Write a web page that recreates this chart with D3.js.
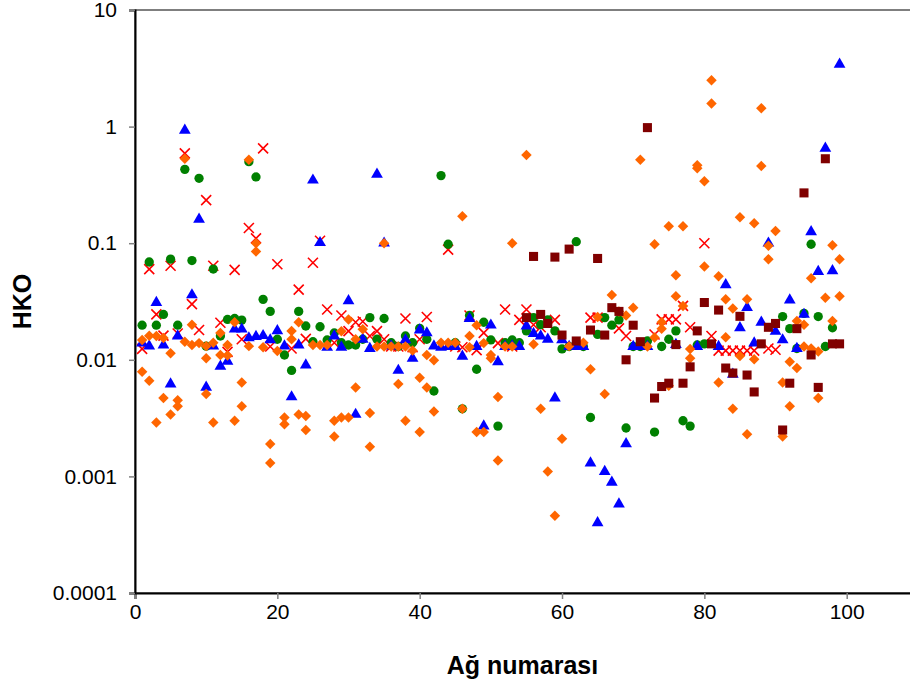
<!DOCTYPE html>
<html>
<head>
<meta charset="utf-8">
<script src="https://cdn.jsdelivr.net/npm/d3@7"></script>
<style>
  body { margin: 0; background: #fff; }
  text { font-family: Arial, "Liberation Sans", sans-serif; }
</style>
</head>
<body>
<div class="chart"></div>
<script>
// Data: [network number, HKO value]
const redCross = [
  [1,0.0124],[2,0.06],[3,0.0245],[4,0.0161],[5,0.064],[6,0.0168],[7,0.59],[8,0.030],[9,0.018],[10,0.234],
  [11,0.064],[12,0.0208],[13,0.0117],[14,0.059],[15,0.015],[16,0.135],[17,0.11],[18,0.65],[19,0.013],[20,0.066],
  [22,0.0125],[23,0.04],[24,0.0151],[25,0.068],[26,0.105],[27,0.027],[28,0.014],[29,0.024],[30,0.0176],
  [31,0.021],[32,0.0213],[33,0.016],[34,0.0176],[35,0.015],[36,0.013],[37,0.013],[38,0.0226],[39,0.0128],[40,0.015],
  [41,0.0233],[44,0.088],[45,0.013],[46,0.0128],[47,0.024],[48,0.0121],[49,0.017],[51,0.0139],[52,0.027],[53,0.013],
  [54,0.022],[55,0.027],[56,0.02],[57,0.019],[59,0.022],[64,0.023],[65,0.023],[68,0.0186],[69,0.016],
  [73,0.0165],[74,0.0222],[75,0.0222],[76,0.0222],[77,0.029],[78,0.019],[80,0.10],[81,0.016],
  [82,0.012],[83,0.012],[84,0.012],[85,0.012],[86,0.012],[87,0.012],[89,0.0125],[90,0.0122]
];

const greenCircle = [
  [1,0.0198],[2,0.069],[3,0.0198],[4,0.0245],[5,0.073],[6,0.0198],[7,0.43],[8,0.071],[9,0.36],[10,0.0131],
  [11,0.06],[12,0.016],[13,0.0222],[14,0.0226],[15,0.0219],[16,0.5],[17,0.37],[18,0.033],[19,0.026],[20,0.015],
  [21,0.011],[22,0.0081],[23,0.026],[24,0.0195],[25,0.0143],[26,0.0192],[27,0.0148],[28,0.017],[29,0.014],[30,0.0134],
  [31,0.0134],[32,0.015],[33,0.023],[34,0.015],[35,0.0226],[36,0.014],[37,0.013],[38,0.016],[39,0.014],[40,0.0186],
  [41,0.015],[42,0.0054],[43,0.38],[44,0.098],[45,0.014],[46,0.0038],[47,0.024],[48,0.0083],[49,0.021],[50,0.0148],
  [51,0.0027],[52,0.014],[53,0.0148],[54,0.014],[55,0.0177],[56,0.023],[57,0.02],[58,0.022],[59,0.0177],[60,0.0124],
  [61,0.013],[62,0.103],[63,0.013],[64,0.0032],[65,0.0165],[66,0.023],[67,0.0198],[68,0.022],[69,0.0026],[70,0.013],
  [71,0.013],[72,0.0145],[73,0.0024],[74,0.013],[75,0.015],[76,0.0177],[77,0.003],[78,0.0027],[79,0.0134],[80,0.0137],
  [91,0.0235],[92,0.0185],[93,0.0125],[94,0.025],[95,0.098],[96,0.0235],[97,0.013],[98,0.0188]
];

const blueTriangle = [
  [1,0.0139],[2,0.0131],[3,0.031],[4,0.0134],[5,0.0062],[6,0.016],[7,0.93],[8,0.036],[9,0.16],[10,0.0058],
  [11,0.0131],[12,0.0088],[13,0.0097],[14,0.0183],[15,0.0183],[16,0.0154],[17,0.0158],[18,0.0161],[19,0.0148],[20,0.0177],
  [21,0.0131],[22,0.0048],[23,0.0134],[24,0.009],[25,0.347],[26,0.101],[27,0.0128],[28,0.016],[29,0.0128],[30,0.032],
  [31,0.0034],[32,0.015],[33,0.0125],[34,0.39],[35,0.1],[36,0.0131],[37,0.0081],[38,0.0148],[39,0.0103],[40,0.018],
  [41,0.017],[42,0.0131],[43,0.0128],[44,0.013],[45,0.013],[46,0.0107],[47,0.0226],[48,0.013],[49,0.0027],[50,0.0198],
  [51,0.0096],[52,0.013],[53,0.0131],[54,0.013],[55,0.0195],[56,0.0168],[57,0.016],[58,0.015],[59,0.0047],[60,0.0148],
  [61,0.013],[62,0.013],[63,0.013],[64,0.0013],[65,0.0004],[66,0.0011],[67,0.00089],[68,0.00058],[69,0.0019],[70,0.013],
  [71,0.013],[72,0.013],[76,0.0135],[79,0.013],[82,0.013],[83,0.044],[84,0.0075],[85,0.0188],[86,0.028],[87,0.0139],
  [88,0.021],[89,0.1],[90,0.0175],[91,0.0148],[92,0.0325],[93,0.0125],[94,0.0245],[95,0.125],[96,0.057],[97,0.65],
  [98,0.058],[99,3.42]
];

const orangeDiamondA = [
  [1,0.0148],[2,0.0161],[3,0.016],[4,0.0154],[5,0.0114],[6,0.0045],[7,0.0143],[8,0.0134],[9,0.0139],[10,0.0131],
  [11,0.014],[12,0.017],[13,0.0134],[14,0.021],[15,0.004],[16,0.0131],[17,0.1],[18,0.0128],[19,0.0019],[20,0.0119],
  [21,0.0032],[22,0.0177],[23,0.021],[24,0.0033],[25,0.0134],[26,0.0134],[27,0.0134],[28,0.003],[29,0.0176],[30,0.0222],
  [31,0.015],[32,0.0183],[33,0.0035],[34,0.013],[35,0.013],[36,0.013],[37,0.013],[38,0.013],[39,0.012],[40,0.007],
  [41,0.011],[42,0.0099],[43,0.014],[44,0.014],[45,0.014],[46,0.0038],[47,0.016],[48,0.0198],[49,0.0139],[50,0.011],
  [51,0.0048],[52,0.013],[53,0.013],[55,0.57],[56,0.0136],[57,0.0038],[58,0.0011],[59,0.00046],[60,0.0021],
  [61,0.0131],[63,0.014],[64,0.0083],[65,0.0233],[66,0.0051],[67,0.036],[68,0.026],[69,0.024],[70,0.028],
  [71,0.52],[72,0.013],[73,0.0155],[74,0.021],[75,0.006],[76,0.053],[77,0.029],[78,0.0124],[79,0.466],[80,0.063],
  [81,2.5],[82,0.052],[83,0.033],[84,0.0276],[85,0.167],[86,0.033],[87,0.148],[88,1.44],[89,0.073],[90,0.127],
  [91,0.0064],[92,0.0096],[93,0.0215],[94,0.02],[95,0.05],[96,0.0118],[97,0.034],[98,0.096],[99,0.073]
];

const orangeDiamondB = [
  [1,0.0079],[2,0.0066],[3,0.0029],[4,0.0047],[5,0.0034],[6,0.004],[7,0.53],[8,0.02],[10,0.0103],[10,0.0051],
  [11,0.0029],[12,0.011],[13,0.0109],[14,0.003],[15,0.0064],[16,0.52],[17,0.085],[19,0.0013],
  [21,0.0028],[22,0.015],[23,0.0034],[24,0.0025],[28,0.0022],[29,0.0032],[30,0.0032],
  [31,0.0058],[33,0.0018],[35,0.1],[37,0.0062],[38,0.003],[40,0.0024],
  [41,0.0058],[42,0.0036],[46,0.17],[47,0.0128],[48,0.0024],[49,0.0024],[50,0.0103],
  [51,0.00137],[53,0.1],[73,0.098],[74,0.0185],[75,0.14],[76,0.035],[77,0.14],[78,0.0103],[79,0.44],[80,0.34],
  [81,1.58],[82,0.0064],[83,0.0156],[84,0.0038],[85,0.0108],[86,0.0023],[87,0.0101],[88,0.46],[89,0.095],
  [91,0.0022],[92,0.004],[93,0.0085],[94,0.013],[95,0.0125],[96,0.0047],[98,0.0215],[99,0.035]
];

const darkRedSquare = [
  [55,0.023],[56,0.077],[57,0.0245],[58,0.0205],[59,0.076],[60,0.0163],[61,0.089],[62,0.0145],
  [64,0.018],[65,0.074],[66,0.0163],[67,0.028],[68,0.026],[69,0.010],[70,0.0198],
  [71,0.0143],[72,0.98],[73,0.0047],[74,0.0059],[75,0.0063],[76,0.0135],[77,0.0063],[78,0.0087],[79,0.0177],[80,0.031],
  [81,0.0137],[82,0.0267],[83,0.0085],[84,0.0077],[85,0.0236],[86,0.0074],[87,0.0053],[88,0.0137],[89,0.019],[90,0.0205],
  [91,0.0025],[92,0.0063],[93,0.0185],[94,0.27],[95,0.011],[96,0.0058],[97,0.53],[98,0.0137],[99,0.0137]
];

const xTicks = [0, 20, 40, 60, 80, 100];
const yTicks = [0.0001, 0.001, 0.01, 0.1, 1, 10];
const yTickLabels = ["0.0001", "0.001", "0.01", "0.1", "1", "10"];

// Layout
const width = 910;
const height = 690;
const plotLeft = 135, plotTop = 10, plotBottom = 593;

const svg = d3.select('.chart')
              .append('svg')
              .attr('width', width)
              .attr('height', height);

const xScale = d3.scaleLinear()
                 .domain([0, 110])
                 .range([plotLeft, plotLeft + 110 * 7.117]);

const yScale = d3.scaleLog()
                 .domain([0.0001, 10])
                 .range([plotBottom, plotTop]);

// Plot frame (top/right edges)
svg.append('rect')
   .attr('x', plotLeft)
   .attr('y', plotTop)
   .attr('width', xScale(110) - plotLeft)
   .attr('height', plotBottom - plotTop)
   .attr('fill', 'none')
   .attr('stroke', '#000')
   .attr('stroke-width', 1);

// Axes
const xAxis = d3.axisBottom(xScale).tickValues(xTicks).tickSize(6).tickPadding(5);
const yAxis = d3.axisLeft(yScale).tickValues(yTicks).tickSize(6).tickPadding(12)
                .tickFormat((d, i) => yTickLabels[i]);

const gx = svg.append('g')
   .attr('transform', 'translate(0,' + plotBottom + ')')
   .call(xAxis);
const gy = svg.append('g')
   .attr('transform', 'translate(' + plotLeft + ',0)')
   .call(yAxis);

[gx, gy].forEach(g => {
  g.select('.domain').attr('stroke', '#000').attr('stroke-width', 2);
  g.selectAll('.tick line').attr('stroke', '#808080').attr('stroke-width', 1.5);
  g.selectAll('.tick text').attr('font-size', '21px').attr('fill', '#000')
   .attr('font-family', 'Arial, "Liberation Sans", sans-serif');
});

// Axis titles
svg.append('text')
   .attr('x', (plotLeft + 910) / 2)
   .attr('y', 674)
   .attr('text-anchor', 'middle')
   .attr('font-size', '25px')
   .attr('font-weight', 'bold')
   .text('Ağ numarası');

svg.append('text')
   .attr('transform', 'translate(31,' + ((plotTop + plotBottom) / 2) + ') rotate(-90)')
   .attr('text-anchor', 'middle')
   .attr('font-size', '25px')
   .attr('font-weight', 'bold')
   .text('HKO');

// Markers
const crossType = {
  draw(ctx, size) {
    const r = Math.sqrt(size) / 2;
    ctx.moveTo(-r, -r); ctx.lineTo(r, r);
    ctx.moveTo(-r, r); ctx.lineTo(r, -r);
  }
};

function drawSeries(data, type, size, color, opts) {
  const g = svg.append('g');
  g.selectAll('path')
   .data(data)
   .enter()
   .append('path')
   .attr('d', d3.symbol().type(type).size(size))
   .attr('transform', d => 'translate(' + xScale(d[0]) + ',' + yScale(d[1]) + ')' + (opts && opts.rotate ? ' rotate(45)' : ''))
   .attr('fill', opts && opts.stroke ? 'none' : color)
   .attr('stroke', opts && opts.stroke ? color : 'none')
   .attr('stroke-width', opts && opts.stroke ? 1.6 : 0);
}

drawSeries(redCross, crossType, 100, '#FF0000', { stroke: true });
drawSeries(greenCircle, d3.symbolCircle, 68, '#008000');
drawSeries(blueTriangle, d3.symbolTriangle, 60, '#0000FF');
drawSeries(orangeDiamondA, d3.symbolSquare, 55, '#FF6600', { rotate: true });
drawSeries(orangeDiamondB, d3.symbolSquare, 55, '#FF6600', { rotate: true });
drawSeries(darkRedSquare, d3.symbolSquare, 82, '#800000');
</script>
</body>
</html>
